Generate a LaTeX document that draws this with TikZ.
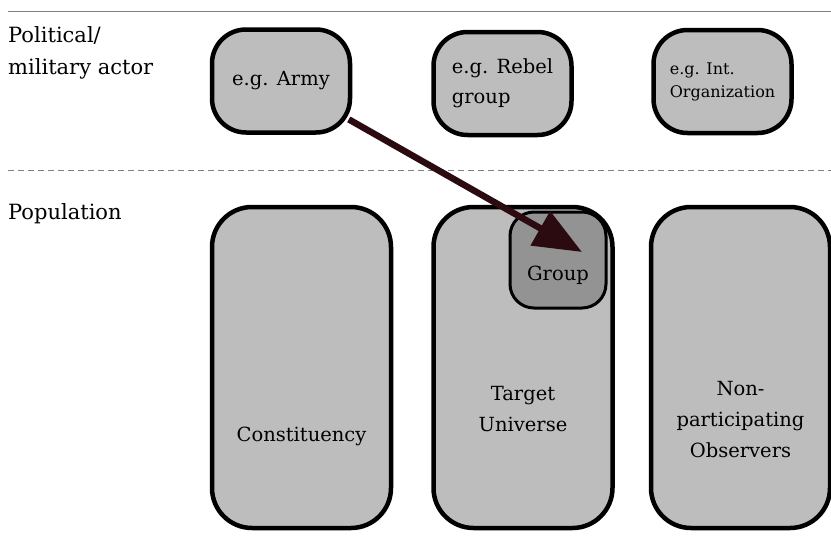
\documentclass[tikz,border=0pt]{standalone}
\usepackage{fontspec}
\setmainfont{DejaVu Serif}
\usetikzlibrary{arrows.meta}

\definecolor{boxgray}{HTML}{BDBDBD}
\definecolor{groupgray}{HTML}{939393}
\definecolor{arrowred}{HTML}{2B0B0F}

\tikzset{
    boxtext/.style={font=\fontsize{19.5}{31}\selectfont, align=center, inner sep=0pt},
    actorbox/.style={draw, line width=4.5pt, fill=boxgray, rounded corners=34pt,
        minimum width=138pt, minimum height=103pt, align=left,
        font=\fontsize{19.5}{30}\selectfont},
    popbox/.style={draw, line width=4.5pt, fill=boxgray, rounded corners=40pt,
        minimum width=179pt, minimum height=321pt},
    groupbox/.style={draw, line width=3pt, fill=groupgray, rounded corners=24pt,
        minimum width=96pt, minimum height=96pt},
    sidelabel/.style={font=\fontsize{21}{32}\selectfont, align=left, inner sep=0pt, anchor=north west},
    hitarrow/.style={draw=arrowred, line width=6.5pt,
        -{Triangle[length=48pt,width=38pt]}}
}

\begin{document}
\begin{tikzpicture}[x=1pt,y=-1pt]
    \useasboundingbox (0,0) rectangle (831,541);

    % Separator lines
    \draw[gray, line width=1pt] (8,11) -- (831,11);
    \draw[gray, line width=1pt, dash pattern=on 6pt off 4pt] (8,170) -- (831,170);

    % Row labels
    \node[sidelabel] (actorlbl) at (8,26) {Political/\\military actor};
    \node[sidelabel] (poplbl) at (8,203) {Population};

    % Political/military actors
    \node[actorbox, align=center] (army) at (281,81) {e.g. Army};
    \node[actorbox] (rebel) at (502.5,83.5) {e.g. Rebel\\group};
    \node[actorbox, font=\fontsize{16}{23}\selectfont] (intorg) at (722.5,81.5) {e.g. Int.\\Organization};

    % Population
    \node[popbox] (constit) at (301.5,367.5) {};
    \node[popbox] (target) at (523,367.5) {};
    \node[popbox] (observ) at (740.5,367.5) {};
    \node[boxtext] (constitlbl) at (301.5,436) {Constituency};
    \node[boxtext] (targetlbl) at (523,409) {Target\\Universe};
    \node[boxtext] (observlbl) at (740.5,420) {Non-\\participating\\Observers};

    % Targeted group
    \node[groupbox] (group) at (558,260) {};
    \node[boxtext] (grouplbl) at (558,275) {Group};

    % Violence arrow
    \coordinate (hit) at (582,252);
    \draw[hitarrow, shorten <=-4pt] (army) -- (hit);
\end{tikzpicture}
\end{document}
